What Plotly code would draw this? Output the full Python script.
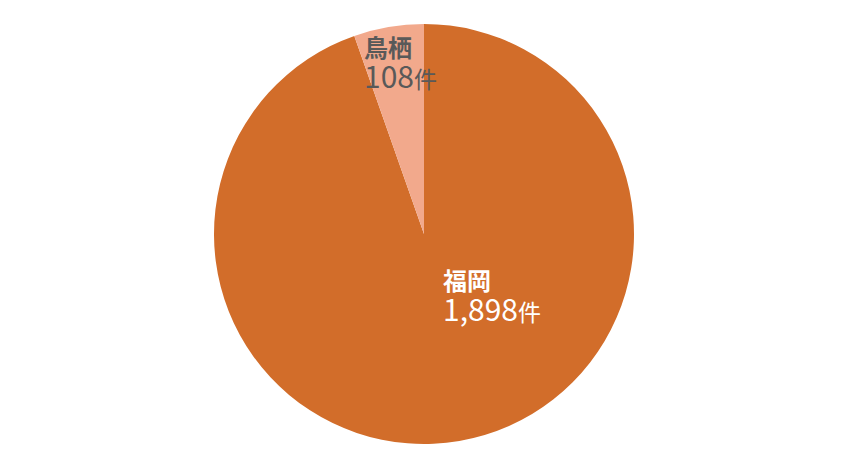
import plotly.graph_objects as go

regions = ["福岡", "鳥栖"]
counts = [1898, 108]
colors = ["#D26D2A", "#F2A98C"]
label_colors = ["#FFFFFF", "#595959"]
unit = "件"

W, H = 848, 468
# pie placement in figure pixels
cx, cy, r = 416, 226, 210

fig = go.Figure(go.Pie(
    labels=regions,
    values=counts,
    sort=False,
    direction="clockwise",
    rotation=0,
    marker=dict(colors=colors, line=dict(width=0)),
    textinfo="none",
    hoverinfo="label+value",
    showlegend=False,
    domain=dict(x=[(cx - r) / W, (cx + r) / W], y=[1 - (cy + r) / H, 1 - (cy - r) / H]),
))

label_px = [(433, 252), (354, 19)]
for name, val, col, (px, py) in zip(regions, counts, label_colors, label_px):
    txt = (f"<b>{name}</b><br>"
           f"<span style='font-size:30px'>{val:,}</span>"
           f"<span style='font-size:23px'>{unit}</span>")
    fig.add_annotation(
        x=px / W, y=1 - py / H, xref="paper", yref="paper",
        xanchor="left", yanchor="top", align="left",
        text=txt, showarrow=False,
        font=dict(family="Noto Sans CJK JP", size=24, color=col),
    )

fig.update_layout(
    width=W, height=H,
    margin=dict(l=0, r=0, t=0, b=0),
    paper_bgcolor="white", plot_bgcolor="white",
)
fig.write_html("out.html")
